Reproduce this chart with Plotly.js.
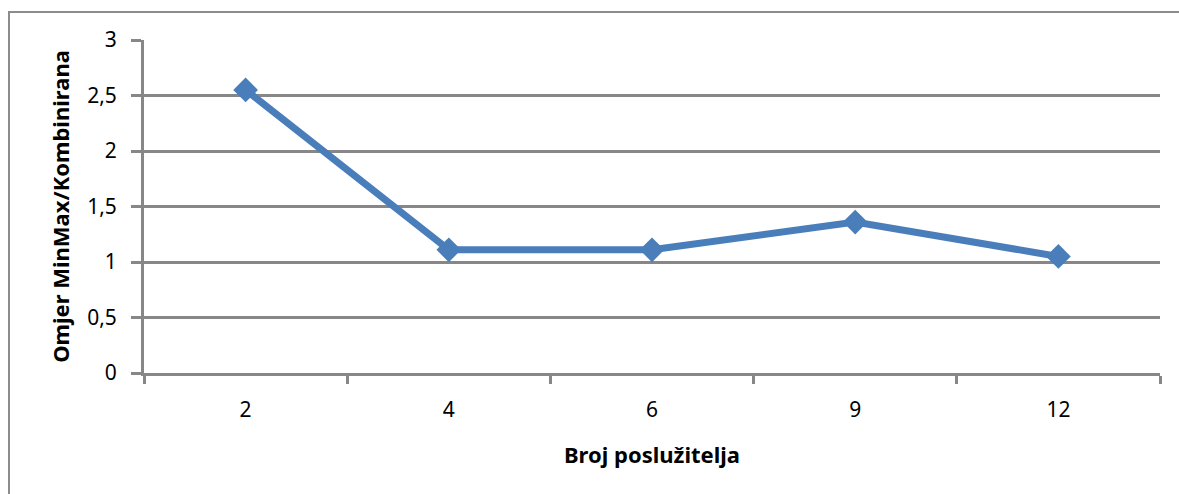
<!DOCTYPE html>
<html>
<head>
<meta charset="utf-8">
<script src="https://cdn.plot.ly/plotly-3.0.1.min.js"></script>
<style>
html,body{margin:0;padding:0;background:#fff;}
#chart{width:1179px;height:494px;position:relative;}
#frame{position:absolute;left:8px;top:11px;width:1200px;height:500px;border-left:2px solid #8c8c8c;border-top:2px solid #8c8c8c;pointer-events:none;}
</style>
</head>
<body>
<div id="chart"></div>
<div id="frame"></div>
<script>
const categories = ['2', '4', '6', '9', '12'];
const ratio = [2.55, 1.11, 1.11, 1.36, 1.05];
const yTickVals = [0, 0.5, 1, 1.5, 2, 2.5, 3];
const yTickText = ['0', '0,5', '1', '1,5', '2', '2,5', '3'];
const xTitle = 'Broj poslužitelja';
const yTitle = 'Omjer MinMax/Kombinirana';

const font = 'Noto Sans, Open Sans, sans-serif';
const gray = '#878787';

Plotly.newPlot('chart', [{
  x: categories,
  y: ratio,
  type: 'scatter',
  mode: 'lines+markers',
  line: {color: '#4a7ebb', width: 7},
  marker: {symbol: 'diamond', size: 19, color: '#4a7ebb'},
  cliponaxis: false,
  hoverinfo: 'none'
}], {
  width: 1179, height: 494,
  margin: {l: 144, r: 19, t: 40, b: 121},
  paper_bgcolor: 'rgba(0,0,0,0)',
  plot_bgcolor: 'rgba(0,0,0,0)',
  showlegend: false,
  font: {family: font, color: '#000', size: 21},
  xaxis: {
    type: 'category',
    range: [-0.5, 4.5],
    showline: true, linecolor: gray, linewidth: 3,
    ticks: 'outside', tickson: 'boundaries', ticklen: 8, tickwidth: 3, tickcolor: gray,
    showgrid: false, zeroline: false,
    ticklabelstandoff: 16,
    tickfont: {family: font, size: 21},
    title: {text: xTitle, font: {family: font, size: 22, weight: 'bold'}, standoff: 26}
  },
  yaxis: {
    range: [0, 3],
    tickvals: yTickVals, ticktext: yTickText,
    showline: true, linecolor: gray, linewidth: 3,
    ticks: 'outside', ticklen: 10, tickwidth: 3, tickcolor: gray,
    showgrid: true, gridcolor: gray, gridwidth: 3,
    zeroline: false,
    ticklabelstandoff: 10,
    tickfont: {family: font, size: 21},
    title: {text: yTitle, font: {family: font, size: 22, weight: 'bold'}, standoff: 12}
  }
}, {displayModeBar: false, staticPlot: true});
</script>
</body>
</html>
